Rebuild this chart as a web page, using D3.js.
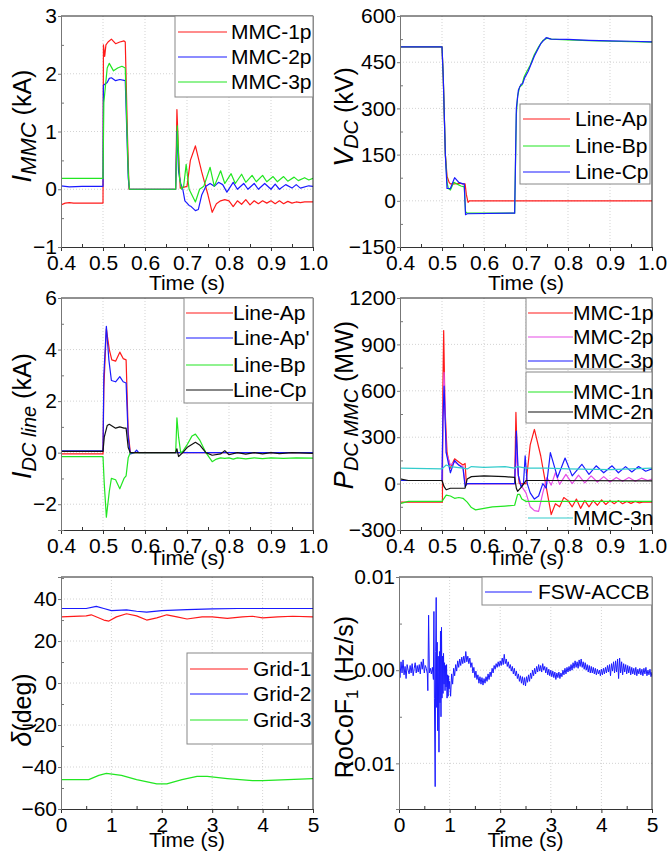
<!DOCTYPE html>
<html>
<head>
<meta charset="utf-8">
<script src="https://cdnjs.cloudflare.com/ajax/libs/d3/7.8.5/d3.min.js"></script>
<style>
  body { margin: 0; background: #fff; }
  svg { display: block; }
  text { font-family: "Liberation Sans", Arial, sans-serif; fill: #000; }
</style>
</head>
<body>
<svg id="chart" width="667" height="857"></svg>
<script>
// ---- tick values ----
const shortTimeTicks = [0.4, 0.5, 0.6, 0.7, 0.8, 0.9, 1.0]
const longTimeTicks = [0, 1, 2, 3, 4, 5]

// ---- panel (a): MMC currents, kA ----
const mmc1pCurrent = [[0.4,-0.27],[0.41,-0.24],[0.42,-0.23],[0.43,-0.24],[0.45,-0.24],[0.48,-0.24],[0.5,-0.24],[0.501,2.5],[0.504,2.3],[0.507,2.5],[0.512,2.55],[0.52,2.6],[0.53,2.52],[0.54,2.55],[0.55,2.57],[0.553,2.55],[0.558,1.0],[0.562,0],[0.673,0],[0.676,1.38],[0.68,0.6],[0.684,0.02],[0.7,0.05],[0.708,0.5],[0.72,0.75],[0.735,0.3],[0.75,-0.1],[0.76,-0.4],[0.77,-0.25],[0.78,-0.2],[0.79,-0.18],[0.8,-0.2],[0.81,-0.3],[0.82,-0.2],[0.83,-0.26],[0.84,-0.18],[0.85,-0.27],[0.86,-0.2],[0.87,-0.25],[0.88,-0.2],[0.89,-0.24],[0.9,-0.2],[0.91,-0.25],[0.92,-0.2],[0.93,-0.25],[0.94,-0.21],[0.95,-0.24],[0.96,-0.22],[0.97,-0.23],[0.98,-0.22],[1.0,-0.22]]
const mmc2pCurrent = [[0.4,0.06],[0.42,0.04],[0.45,0.05],[0.5,0.05],[0.501,1.8],[0.51,1.85],[0.515,1.92],[0.52,1.93],[0.53,1.88],[0.54,1.9],[0.553,1.88],[0.56,0.2],[0.563,0],[0.673,0],[0.676,1.0],[0.68,0.3],[0.685,0.1],[0.69,0],[0.695,-0.2],[0.705,-0.28],[0.71,-0.3],[0.72,-0.37],[0.727,-0.35],[0.735,-0.1],[0.745,0.05],[0.755,0.1],[0.765,0.05],[0.775,0.12],[0.785,0.08],[0.795,-0.05],[0.81,0.12],[0.82,0],[0.835,0.1],[0.845,0],[0.86,0.1],[0.87,0],[0.885,0.1],[0.9,0],[0.91,0.09],[0.92,0],[0.935,0.08],[0.95,0.02],[0.96,0.08],[0.97,0.02],[0.99,0.06],[1.0,0.05]]
const mmc3pCurrent = [[0.4,0.19],[0.5,0.19],[0.502,1.5],[0.51,2.1],[0.515,2.18],[0.525,2.05],[0.535,2.1],[0.545,2.13],[0.553,2.1],[0.56,0.3],[0.563,0],[0.673,0],[0.677,1.1],[0.682,0.2],[0.687,0],[0.692,0.05],[0.698,0.43],[0.705,0],[0.72,-0.22],[0.73,0],[0.74,0.05],[0.755,0.38],[0.765,0.05],[0.78,0.32],[0.79,0.1],[0.805,0.27],[0.815,0.1],[0.83,0.26],[0.84,0.12],[0.855,0.24],[0.865,0.13],[0.88,0.24],[0.89,0.13],[0.905,0.22],[0.915,0.13],[0.93,0.22],[0.94,0.14],[0.955,0.21],[0.965,0.15],[0.98,0.2],[0.99,0.16],[1.0,0.19]]

// ---- panel (b): DC voltages, kV ----
const lineApVoltage = [[0.4,500],[0.5,500],[0.503,400],[0.508,150],[0.512,80],[0.517,60],[0.52,55],[0.53,55],[0.54,57],[0.55,55],[0.555,55],[0.558,20],[0.562,-5],[0.565,0],[1.0,0]]
const lineBpVoltage = [[0.4,500],[0.5,500],[0.503,400],[0.508,150],[0.512,60],[0.515,40],[0.52,35],[0.528,60],[0.535,55],[0.545,48],[0.553,45],[0.556,-35],[0.56,-40],[0.673,-40],[0.677,280],[0.68,340],[0.685,370],[0.69,375],[0.695,400],[0.7,415],[0.71,440],[0.72,475],[0.73,500],[0.74,520],[0.75,528],[0.76,525],[0.8,522],[0.85,520],[0.9,518],[0.95,517],[1.0,515]]
const lineCpVoltage = [[0.4,500],[0.5,500],[0.503,400],[0.508,150],[0.512,40],[0.52,40],[0.53,75],[0.54,60],[0.55,55],[0.553,55],[0.556,-45],[0.56,-42],[0.673,-40],[0.677,300],[0.682,360],[0.688,378],[0.692,380],[0.697,400],[0.705,420],[0.72,470],[0.735,510],[0.748,530],[0.76,525],[0.8,524],[0.85,521],[0.9,519],[0.95,518],[1.0,516]]

// ---- panel (c): DC line currents, kA ----
const lineApCurrent = [[0.4,-0.05],[0.5,-0.05],[0.502,2.5],[0.508,4.8],[0.515,4.0],[0.521,3.6],[0.53,3.55],[0.54,3.9],[0.548,3.65],[0.555,3.6],[0.56,0.8],[0.565,0],[1.0,0]]
const lineApPrimeCurrent = [[0.4,0.07],[0.5,0.07],[0.502,3.0],[0.508,4.9],[0.514,3.6],[0.52,2.8],[0.53,2.75],[0.54,2.95],[0.548,2.75],[0.555,2.7],[0.56,0.6],[0.565,-0.05],[0.575,0],[0.58,0.1],[0.585,0],[1.0,0]]
const lineBpCurrent = [[0.4,-0.15],[0.5,-0.15],[0.503,-1.2],[0.508,-2.5],[0.515,-1.5],[0.52,-1.0],[0.53,-1.05],[0.54,-1.4],[0.55,-1.0],[0.555,-0.9],[0.56,-0.2],[0.565,0],[0.673,0],[0.676,1.35],[0.68,0.6],[0.685,0],[0.69,0.05],[0.7,0.3],[0.712,0.65],[0.72,0.72],[0.73,0.5],[0.745,0],[0.76,-0.35],[0.77,-0.25],[0.78,-0.2],[0.79,-0.22],[0.8,-0.2],[0.81,-0.25],[0.82,-0.2],[0.84,-0.24],[0.86,-0.2],[0.88,-0.23],[0.9,-0.2],[0.93,-0.22],[0.96,-0.2],[1.0,-0.21]]
const lineCpCurrent = [[0.4,0.05],[0.5,0.05],[0.503,0.6],[0.51,1.05],[0.515,1.1],[0.53,0.95],[0.54,1.0],[0.55,0.95],[0.555,0.95],[0.56,0.2],[0.565,0],[0.673,0],[0.676,0.15],[0.68,-0.15],[0.69,0],[0.7,0.2],[0.72,0.4],[0.73,0.3],[0.745,0],[0.76,-0.1],[0.78,-0.05],[0.79,0.08],[0.8,-0.08],[0.82,0],[0.84,-0.06],[0.86,0],[0.88,-0.05],[0.9,0],[0.92,-0.04],[0.95,0],[1.0,-0.03]]

// ---- panel (d): MMC DC powers, MW ----
const mmc1pPower = [[0.4,-120],[0.5,-120],[0.501,-120],[0.502,600],[0.504,990],[0.507,500],[0.512,200],[0.52,100],[0.53,160],[0.54,140],[0.55,120],[0.555,130],[0.558,0],[0.673,0],[0.676,460],[0.68,100],[0.684,0],[0.7,0],[0.71,250],[0.72,350],[0.735,180],[0.748,-20],[0.76,-200],[0.77,-130],[0.78,-150],[0.79,-90],[0.8,-110],[0.81,-150],[0.82,-100],[0.83,-160],[0.84,-110],[0.85,-150],[0.86,-110],[0.87,-140],[0.88,-105],[0.89,-135],[0.9,-110],[0.91,-130],[0.92,-110],[0.93,-130],[0.94,-115],[0.95,-128],[0.96,-115],[0.97,-125],[0.98,-118],[1.0,-120]]
const mmc2pPower = [[0.4,20],[0.5,20],[0.502,400],[0.505,720],[0.51,200],[0.52,120],[0.53,140],[0.54,120],[0.55,110],[0.555,0],[0.673,0],[0.677,200],[0.682,50],[0.69,-20],[0.7,-60],[0.71,-150],[0.72,-175],[0.73,-180],[0.74,-60],[0.75,40],[0.76,-10],[0.77,70],[0.78,-5],[0.795,60],[0.81,0],[0.825,55],[0.84,5],[0.855,50],[0.87,10],[0.885,45],[0.9,10],[0.915,40],[0.93,15],[0.945,40],[0.96,15],[0.975,35],[0.99,20],[1.0,30]]
const mmc3pPower = [[0.4,20],[0.5,20],[0.502,400],[0.505,630],[0.51,200],[0.52,70],[0.53,150],[0.54,120],[0.55,100],[0.555,-20],[0.56,0],[0.673,0],[0.677,340],[0.682,50],[0.688,-20],[0.694,0],[0.698,180],[0.703,0],[0.71,-60],[0.72,-100],[0.73,-80],[0.74,0],[0.748,-30],[0.758,200],[0.775,40],[0.793,165],[0.81,50],[0.833,125],[0.85,60],[0.867,115],[0.885,70],[0.905,115],[0.92,70],[0.937,110],[0.952,75],[0.968,110],[0.985,80],[1.0,95]]
const mmc1nPower = [[0.4,-130],[0.42,-115],[0.5,-115],[0.51,-75],[0.52,-80],[0.53,-95],[0.54,-90],[0.55,-95],[0.56,-120],[0.57,-155],[0.58,-170],[0.6,-160],[0.62,-150],[0.65,-145],[0.673,-140],[0.68,-70],[0.685,-70],[0.69,-100],[0.7,-115],[0.75,-115],[1.0,-115]]
const mmc2nPower = [[0.4,30],[0.42,20],[0.5,20],[0.505,-20],[0.51,-40],[0.52,-30],[0.555,-30],[0.56,30],[0.57,45],[0.6,50],[0.65,45],[0.673,40],[0.677,-30],[0.68,-50],[0.69,-20],[0.7,20],[0.75,20],[1.0,18]]
const mmc3nPower = [[0.4,100],[0.5,95],[0.51,120],[0.52,110],[0.55,100],[0.56,95],[0.57,110],[0.6,105],[0.65,110],[0.673,100],[0.68,110],[0.7,100],[0.75,100],[0.8,95],[0.9,90],[1.0,100]]

// ---- panel (e): rotor angles, deg ----
const grid1Angle = [[0,31.5],[0.5,32],[0.6,32.5],[0.85,30],[0.95,29.5],[1.1,31.5],[1.3,33],[1.5,32],[1.7,30],[1.9,31],[2.1,32.5],[2.3,31.5],[2.5,30.5],[2.8,31.5],[3.0,31.5],[3.3,30.8],[3.6,31.5],[3.8,31.8],[4.0,31],[4.3,31.5],[4.6,31.8],[5.0,31.5]]
const grid2Angle = [[0,35.5],[0.5,35.5],[0.7,36.5],[0.85,35.5],[1.0,34.5],[1.3,34.8],[1.5,34.2],[1.7,33.8],[2.0,34.5],[2.5,35],[3.0,35.3],[3.5,35.5],[5.0,35.5]]
const grid3Angle = [[0,-46],[0.55,-46],[0.75,-44],[0.9,-43],[1.2,-44],[1.5,-46],[1.9,-48],[2.1,-48],[2.4,-46],[2.7,-44.5],[2.9,-44.5],[3.3,-45.5],[3.8,-46.5],[4.0,-46.5],[4.5,-46],[5.0,-45.5]]

// ---- panel (f): RoCoF, values in 1e-3 Hz/s ----
const rocofMilli = [[0,0.3],[0.02,-0.8],[0.04,0.9],[0.06,-0.3],[0.08,1.1],[0.1,-0.5],[0.12,0.4],[0.14,-0.9],[0.16,0.6],[0.18,0],
[0.2,-0.4],[0.22,0.5],[0.24,-0.3],[0.26,0.7],[0.28,-0.6],[0.3,0.2],[0.32,0.8],[0.34,-0.3],[0.36,0.5],[0.38,-0.2],
[0.4,0.6],[0.42,-0.4],[0.44,0.9],[0.46,0.1],[0.48,1.2],[0.5,-0.3],[0.52,0.5],[0.54,0.2],
[0.56,-0.4],[0.57,-2.2],[0.585,5.9],[0.6,-0.3],[0.62,0.2],[0.64,-0.4],[0.66,0.3],[0.68,-1.0],[0.69,6.3],[0.7,-3.0],[0.715,-12.5],[0.725,2.0],[0.735,7.8],[0.745,-4.0],[0.755,3.0],[0.765,-6.5],[0.775,1.5],[0.79,-8.8],[0.8,2.0],[0.81,-3.5],[0.82,4.2],[0.83,-5.0],[0.84,4.6],[0.85,-3.0],[0.86,1.5],[0.87,-2.5],[0.88,1.8],[0.89,-1.5],[0.9,0.8],[0.91,-2.2],[0.92,0.5],[0.93,-1.8],[0.94,0.6],[0.95,-3.0],[0.96,-0.5],[0.97,-2.8],[0.98,-0.6],[0.99,-2.0],
[1.0,-1.2],[1.02,-2.8],[1.04,-0.4],[1.06,-1.5],[1.08,0.2],[1.1,-0.6],[1.12,0.6],[1.14,-0.1],[1.16,1.0],[1.18,0.3],
[1.2,1.2],[1.22,0.5],[1.24,1.4],[1.26,0.7],[1.28,1.5],[1.3,0.8],[1.32,2.0],[1.34,0.9],[1.36,1.5],[1.38,0.7],
[1.4,1.3],[1.42,0.3],[1.44,0.8],[1.46,-0.3],[1.48,0.3],[1.5,-0.8],[1.52,-0.1],[1.54,-1.0],[1.56,-0.5],[1.58,-1.4],
[1.6,-0.7],[1.62,-1.5],[1.64,-0.8],[1.66,-1.6],[1.68,-0.9],[1.7,-1.4],[1.72,-0.7],[1.74,-1.2],[1.76,-0.4],[1.78,-1.0],
[1.8,-0.2],[1.82,-0.7],[1.84,0.2],[1.86,-0.3],[1.88,0.5],[1.9,0.1],[1.92,0.7],[1.94,0.3],[1.96,0.9],[1.98,0.4],
[2.0,1.0],[2.02,0.5],[2.04,1.3],[2.06,0.6],[2.08,1.7],[2.1,0.7],[2.12,1.2],[2.14,0.4],[2.16,0.9],[2.18,0.2],
[2.2,0.6],[2.22,-0.1],[2.24,0.4],[2.26,-0.4],[2.28,0.2],[2.3,-0.6],[2.32,-0.1],[2.34,-0.9],[2.36,-0.4],[2.38,-1.2],
[2.4,-0.6],[2.42,-1.4],[2.44,-0.7],[2.46,-1.6],[2.48,-0.8],[2.5,-1.7],[2.52,-0.7],[2.54,-1.3],[2.56,-0.5],[2.58,-1.2],
[2.6,-0.3],[2.62,-0.9],[2.64,0],[2.66,-0.6],[2.68,0.2],[2.7,-0.4],[2.72,0.4],[2.74,-0.2],[2.76,0.6],[2.78,-0.1],
[2.8,0.5],[2.82,-0.2],[2.84,0.7],[2.86,0],[2.88,0.4],[2.9,-0.3],[2.92,0.3],[2.94,-0.5],[2.96,0.1],[2.98,-0.6],
[3.0,0],[3.02,-0.7],[3.04,-0.1],[3.06,-0.8],[3.08,-0.2],[3.1,-1.0],[3.12,-0.3],[3.14,-0.8],[3.16,-0.2],[3.18,-0.9],
[3.2,-0.3],[3.22,-0.7],[3.24,0],[3.26,-0.5],[3.28,0.2],[3.3,-0.4],[3.32,0.3],[3.34,-0.2],[3.36,0.4],[3.38,-0.1],
[3.4,0.6],[3.42,0],[3.44,0.8],[3.46,0.2],[3.48,1.0],[3.5,0.3],[3.52,0.9],[3.54,0.2],[3.56,1.1],[3.58,0.4],
[3.6,1.2],[3.62,0.3],[3.64,0.9],[3.66,0.1],[3.68,0.8],[3.7,0],[3.72,0.6],[3.74,-0.2],[3.76,0.5],[3.78,-0.3],
[3.8,0.4],[3.82,-0.3],[3.84,0.3],[3.86,-0.4],[3.88,0.2],[3.9,-0.5],[3.92,0.1],[3.94,-0.4],[3.96,0],[3.98,-0.6],
[4.0,0.1],[4.02,-0.5],[4.04,0.2],[4.06,-0.4],[4.08,0.3],[4.1,-0.3],[4.12,0.5],[4.14,-0.2],[4.16,0.6],[4.18,-0.6],
[4.2,0.7],[4.22,-0.1],[4.24,0.9],[4.26,-0.3],[4.28,1.0],[4.3,-0.2],[4.32,1.2],[4.34,-0.9],[4.36,1.3],[4.38,-0.3],
[4.4,0.9],[4.42,-0.5],[4.44,0.7],[4.46,-0.2],[4.48,0.6],[4.5,-0.4],[4.52,0.5],[4.54,-0.3],[4.56,0.4],[4.58,-0.5],
[4.6,0.3],[4.62,-0.4],[4.64,0.2],[4.66,-0.5],[4.68,0.3],[4.7,-0.6],[4.72,0.1],[4.74,-0.4],[4.76,0.2],[4.78,-0.5],
[4.8,0.1],[4.82,-0.6],[4.84,0.2],[4.86,-0.4],[4.88,0.3],[4.9,-0.6],[4.92,0],[4.94,-0.5],[4.96,0.1],[4.98,-0.7],[5.0,-0.2]]
const rocof = rocofMilli.map(d => [d[0], d[1] / 1000])

const RED = '#ff1a1a', BLUE = '#1a1aff', GREEN = '#22e622', BLACK = '#111',
      MAGENTA = '#e64de6', CYAN = '#33cccc'

const svg = d3.select('#chart')
const fontFam = '"Liberation Sans", Arial, sans-serif'
const TICK_FONT = 21

function drawPanel(p) {
  const x = d3.scaleLinear().domain(p.xDomain).range([p.left, p.right])
  const y = d3.scaleLinear().domain(p.yDomain).range([p.bottom, p.top])
  const g = svg.append('g')

  // dotted grid at major ticks
  g.selectAll(null).data(p.xTicks.slice(1, -1)).join('line')
    .attr('x1', d => x(d)).attr('x2', d => x(d))
    .attr('y1', p.top).attr('y2', p.bottom)
    .attr('stroke', '#c8c8c8').attr('stroke-width', 0.8).attr('stroke-dasharray', '1,2')
  g.selectAll(null).data(p.yTicks.filter(v => y(v) > p.top + 1 && y(v) < p.bottom - 1)).join('line')
    .attr('y1', d => y(d)).attr('y2', d => y(d))
    .attr('x1', p.left).attr('x2', p.right)
    .attr('stroke', '#c8c8c8').attr('stroke-width', 0.8).attr('stroke-dasharray', '1,2')

  const clipId = 'clip-' + p.id
  svg.append('clipPath').attr('id', clipId).append('rect')
    .attr('x', p.left).attr('y', p.top)
    .attr('width', p.right - p.left).attr('height', p.bottom - p.top)

  const line = d3.line().x(d => x(d[0])).y(d => y(d[1]))
  p.series.forEach(s => {
    g.append('path')
      .attr('d', line(s.values))
      .attr('fill', 'none')
      .attr('stroke', s.color)
      .attr('stroke-width', s.width || 1.2)
      .attr('stroke-linejoin', 'round')
      .attr('clip-path', `url(#${clipId})`)
  })

  // top & right frame
  g.append('path')
    .attr('d', `M${p.left},${p.top}H${p.right}V${p.bottom}`)
    .attr('fill', 'none').attr('stroke', '#222').attr('stroke-width', 1)

  // bottom axis
  const xAxis = g.append('g').attr('transform', `translate(0,${p.bottom})`)
    .call(d3.axisBottom(x).tickValues(p.xTicks).tickFormat(p.xFormat).tickSize(4).tickPadding(4))
  xAxis.attr('font-size', TICK_FONT).attr('font-family', fontFam)
  xAxis.selectAll('path,line').attr('stroke', '#333')
  g.append('g').attr('transform', `translate(0,${p.bottom})`)
    .call(d3.axisBottom(x).tickValues(p.xMinor).tickFormat('').tickSize(-3))
    .call(a => a.select('.domain').remove())
    .selectAll('line').attr('stroke', '#333')

  // left axis
  const yAxis = g.append('g').attr('transform', `translate(${p.left},0)`)
    .call(d3.axisLeft(y).tickValues(p.yTicks).tickFormat(p.yFormat).tickSize(3).tickPadding(1))
  yAxis.attr('font-size', TICK_FONT).attr('font-family', fontFam)
  yAxis.selectAll('path,line').attr('stroke', '#777')
  g.append('g').attr('transform', `translate(${p.left},0)`)
    .call(d3.axisLeft(y).tickValues(p.yMinor).tickFormat('').tickSize(-3))
    .call(a => a.select('.domain').remove())
    .selectAll('line').attr('stroke', '#777')

  // axis titles
  g.append('text')
    .attr('x', (p.left + p.right) / 2).attr('y', p.bottom + p.xTitleOffset)
    .attr('text-anchor', 'middle').attr('font-size', 21)
    .text('Time (s)')

  const cy = p.yTitleY || (p.top + p.bottom) / 2
  const yt = g.append('text')
    .attr('transform', `translate(${p.yTitleX},${cy}) rotate(-90)`)
    .attr('text-anchor', 'middle').attr('font-size', 25)
  p.yTitle.forEach(part => {
    const t = yt.append('tspan').text(part.text)
    if (part.italic) t.attr('font-style', 'italic')
    if (part.size) t.attr('font-size', part.size)
    if (part.dy) t.attr('dy', part.dy)
  })

  // legends
  p.legends.forEach(lg => {
    if (lg.box) {
      g.append('rect')
        .attr('x', lg.box[0]).attr('y', lg.box[1])
        .attr('width', lg.box[2] - lg.box[0]).attr('height', lg.box[3] - lg.box[1])
        .attr('fill', '#fff').attr('stroke', '#888').attr('stroke-width', 1)
    }
    lg.entries.forEach(e => {
      g.append('line')
        .attr('x1', lg.lineX[0]).attr('x2', lg.lineX[1])
        .attr('y1', e.y).attr('y2', e.y)
        .attr('stroke', e.color).attr('stroke-width', 1.2)
      g.append('text')
        .attr('x', lg.textX).attr('y', e.y + 7)
        .attr('font-size', 21)
        .text(e.label)
    })
  })
}

const fmt1 = d3.format('.1f')
const fmtInt = d3.format('d')
const shortMinor = [0.45, 0.55, 0.65, 0.75, 0.85, 0.95]
const longMinor = [0.5, 1.5, 2.5, 3.5, 4.5]

drawPanel({
  id: 'a', left: 61, right: 313, top: 16, bottom: 247,
  xDomain: [0.4, 1.0], xTicks: shortTimeTicks, xMinor: shortMinor, xFormat: fmt1,
  yDomain: [-1, 3], yTicks: [-1, 0, 1, 2, 3], yMinor: [-0.5, 0.5, 1.5, 2.5], yFormat: fmtInt,
  xTitleOffset: 43, yTitleX: 31, yTitleY: 126,
  yTitle: [{ text: 'I', italic: true, size: 27 }, { text: 'MMC', italic: true, size: 22, dy: 5 }, { text: ' (kA)', dy: -5 }],
  series: [
    { values: mmc1pCurrent, color: RED },
    { values: mmc2pCurrent, color: BLUE },
    { values: mmc3pCurrent, color: GREEN }
  ],
  legends: [{
    box: [175, 16, 313, 97], lineX: [178, 227], textX: 231,
    entries: [
      { label: 'MMC-1p', color: RED, y: 32 },
      { label: 'MMC-2p', color: BLUE, y: 57 },
      { label: 'MMC-3p', color: GREEN, y: 82 }
    ]
  }]
})

drawPanel({
  id: 'b', left: 400, right: 652, top: 16, bottom: 247,
  xDomain: [0.4, 1.0], xTicks: shortTimeTicks, xMinor: shortMinor, xFormat: fmt1,
  yDomain: [-150, 600], yTicks: [-150, 0, 150, 300, 450, 600], yMinor: [-75, 75, 225, 375, 525], yFormat: fmtInt,
  xTitleOffset: 43, yTitleX: 353, yTitleY: 117,
  yTitle: [{ text: 'V', italic: true, size: 27 }, { text: 'DC', italic: true, size: 20, dy: 5 }, { text: ' (kV)', dy: -5 }],
  series: [
    { values: lineApVoltage, color: RED },
    { values: lineBpVoltage, color: GREEN },
    { values: lineCpVoltage, color: BLUE }
  ],
  legends: [{
    box: [520, 104, 650, 184], lineX: [523, 570], textX: 575,
    entries: [
      { label: 'Line-Ap', color: RED, y: 119 },
      { label: 'Line-Bp', color: GREEN, y: 146 },
      { label: 'Line-Cp', color: BLUE, y: 172 }
    ]
  }]
})

drawPanel({
  id: 'c', left: 61, right: 313, top: 298, bottom: 530,
  xDomain: [0.4, 1.0], xTicks: shortTimeTicks, xMinor: shortMinor, xFormat: fmt1,
  yDomain: [-3, 6], yTicks: [-2, 0, 2, 4, 6], yMinor: [-3, -1, 1, 3, 5], yFormat: fmtInt,
  xTitleOffset: 35, yTitleX: 31, yTitleY: 416,
  yTitle: [{ text: 'I', italic: true, size: 27 }, { text: 'DC line', italic: true, size: 20, dy: 5 }, { text: ' (kA)', dy: -5 }],
  series: [
    { values: lineApCurrent, color: RED },
    { values: lineApPrimeCurrent, color: BLUE },
    { values: lineBpCurrent, color: GREEN },
    { values: lineCpCurrent, color: BLACK }
  ],
  legends: [{
    box: [184, 298, 313, 403], lineX: [186, 233], textX: 233,
    entries: [
      { label: 'Line-Ap', color: RED, y: 313 },
      { label: "Line-Ap'", color: BLUE, y: 338 },
      { label: 'Line-Bp', color: GREEN, y: 365 },
      { label: 'Line-Cp', color: BLACK, y: 390 }
    ]
  }]
})

drawPanel({
  id: 'd', left: 400, right: 652, top: 298, bottom: 530,
  xDomain: [0.4, 1.0], xTicks: shortTimeTicks, xMinor: shortMinor, xFormat: fmt1,
  yDomain: [-300, 1200], yTicks: [-300, 0, 300, 600, 900, 1200], yMinor: [-150, 150, 450, 750, 1050], yFormat: fmtInt,
  xTitleOffset: 35, yTitleX: 353, yTitleY: 405,
  yTitle: [{ text: 'P', italic: true, size: 27 }, { text: 'DC MMC', italic: true, size: 20, dy: 5 }, { text: ' (MW)', dy: -5 }],
  series: [
    { values: mmc1pPower, color: RED },
    { values: mmc2pPower, color: MAGENTA },
    { values: mmc3pPower, color: BLUE },
    { values: mmc1nPower, color: GREEN },
    { values: mmc2nPower, color: BLACK },
    { values: mmc3nPower, color: CYAN }
  ],
  legends: [
    {
      box: [526, 298, 652, 369], lineX: [528, 573], textX: 573,
      entries: [
        { label: 'MMC-1p', color: RED, y: 313 },
        { label: 'MMC-2p', color: MAGENTA, y: 337 },
        { label: 'MMC-3p', color: BLUE, y: 361 }
      ]
    },
    {
      box: [526, 372, 652, 423], lineX: [528, 573], textX: 573,
      entries: [
        { label: 'MMC-1n', color: GREEN, y: 392 },
        { label: 'MMC-2n', color: BLACK, y: 412 }
      ]
    },
    {
      box: null, lineX: [528, 573], textX: 573,
      entries: [{ label: 'MMC-3n', color: CYAN, y: 518 }]
    }
  ]
})

drawPanel({
  id: 'e', left: 61, right: 313, top: 577, bottom: 809,
  xDomain: [0, 5], xTicks: longTimeTicks, xMinor: longMinor, xFormat: fmtInt,
  yDomain: [-60, 50.5], yTicks: [-60, -40, -20, 0, 20, 40], yMinor: [-50, -30, -10, 10, 30, 50], yFormat: fmtInt,
  xTitleOffset: 38, yTitleX: 31, yTitleY: 710,
  yTitle: [{ text: 'δ', italic: true, size: 27 }, { text: '(deg)' }],
  series: [
    { values: grid1Angle, color: RED },
    { values: grid2Angle, color: BLUE },
    { values: grid3Angle, color: GREEN }
  ],
  legends: [{
    box: [187, 653, 312, 744], lineX: [190, 248], textX: 253,
    entries: [
      { label: 'Grid-1', color: RED, y: 669 },
      { label: 'Grid-2', color: BLUE, y: 694 },
      { label: 'Grid-3', color: GREEN, y: 720 }
    ]
  }]
})

drawPanel({
  id: 'f', left: 399, right: 652, top: 577, bottom: 809,
  xDomain: [0, 5], xTicks: longTimeTicks, xMinor: longMinor, xFormat: fmtInt,
  yDomain: [-0.0149, 0.01], yTicks: [-0.01, 0, 0.01], yMinor: [-0.005, 0.005], yFormat: d3.format('.2f'),
  xTitleOffset: 38, yTitleX: 353, yTitleY: 697,
  yTitle: [{ text: 'RoCoF' }, { text: '1', size: 17, dy: 5 }, { text: ' (Hz/s)', dy: -5 }],
  series: [{ values: rocof, color: BLUE, width: 1 }],
  legends: [{
    box: [482, 577, 652, 605], lineX: [485, 532], textX: 538,
    entries: [{ label: 'FSW-ACCB', color: BLUE, y: 592 }]
  }]
})
</script>
</body>
</html>
